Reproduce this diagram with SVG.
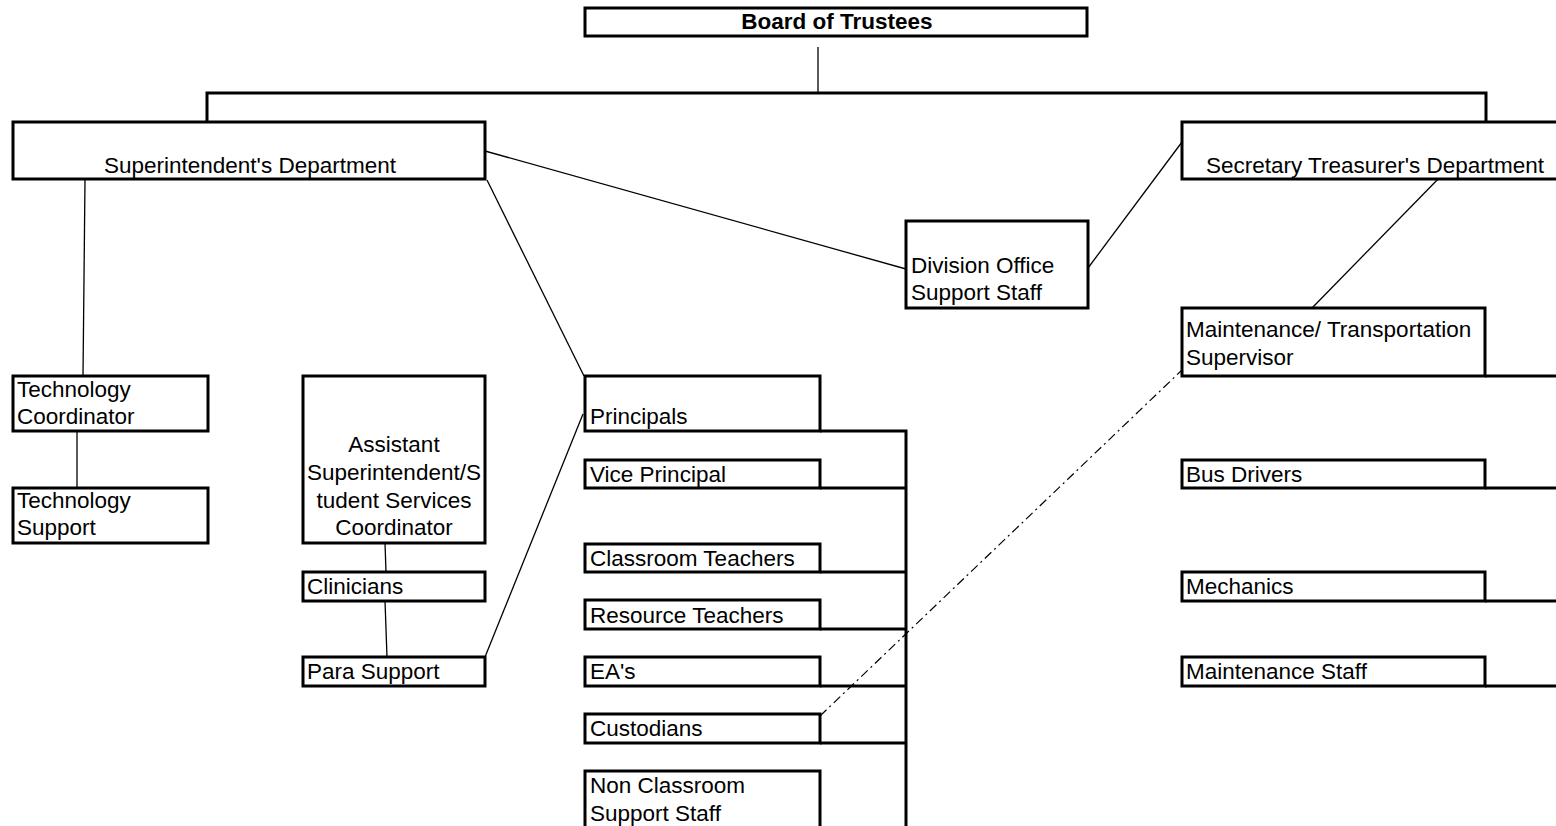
<svg xmlns="http://www.w3.org/2000/svg" width="1556" height="826" viewBox="0 0 1556 826">
<style>
  .box { fill: #ffffff; stroke: #000000; stroke-width: 3; }
  .t { font-family: "Liberation Sans", Arial, sans-serif; font-size: 22.5px; fill: #000000; }
  .b { font-weight: bold; }
  .c { text-anchor: middle; }
  .thin { fill: none; stroke: #000000; stroke-width: 1.3; }
  .thick { fill: none; stroke: #000000; stroke-width: 3; }
  .dd { fill: none; stroke: #000000; stroke-width: 1.2; stroke-dasharray: 9 4 2 4; }
</style>
<rect x="0" y="0" width="1556" height="826" fill="#ffffff"/>
<g id="connectors">
  <line class="thin" x1="818" y1="47" x2="818" y2="92"/>
  <polyline class="thick" points="207,123 207,93 1486,93 1486,123"/>
  <line class="thin" x1="485" y1="151" x2="906" y2="269"/>
  <line class="thin" x1="487" y1="180" x2="584" y2="376"/>
  <line class="thin" x1="1182" y1="142" x2="1088" y2="268"/>
  <line class="thin" x1="1443" y1="174" x2="1312" y2="308"/>
  <line class="thin" x1="85" y1="180" x2="83" y2="376"/>
  <line class="thin" x1="77" y1="431" x2="77" y2="488"/>
  <line class="thin" x1="385" y1="543" x2="386" y2="572"/>
  <line class="thin" x1="385" y1="601" x2="387" y2="657"/>
  <line class="thin" x1="485" y1="657" x2="583" y2="414"/>
  <polyline class="thick" points="820,431 906,431 906,826"/>
  <line class="thick" x1="820" y1="488" x2="906" y2="488"/>
  <line class="thick" x1="820" y1="572" x2="906" y2="572"/>
  <line class="thick" x1="820" y1="629" x2="906" y2="629"/>
  <line class="thick" x1="820" y1="686" x2="906" y2="686"/>
  <line class="thick" x1="820" y1="743" x2="906" y2="743"/>
  <line class="thick" x1="1485" y1="376" x2="1556" y2="376"/>
  <line class="thick" x1="1485" y1="488" x2="1556" y2="488"/>
  <line class="thick" x1="1485" y1="601" x2="1556" y2="601"/>
  <line class="thick" x1="1485" y1="686" x2="1556" y2="686"/>
  <line class="dd" x1="820" y1="716" x2="1182" y2="370"/>
</g>
<g id="board"><rect class="box" x="585" y="8" width="502" height="28"/><text class="t b c" x="837" y="29">Board of Trustees</text></g>
<g id="superintendent"><rect class="box" x="13" y="122" width="472" height="57"/><text class="t c" x="250" y="173">Superintendent's Department</text></g>
<g id="secretary"><rect class="box" x="1182" y="122" width="400" height="57"/><text class="t c" x="1375" y="173">Secretary Treasurer's Department</text></g>
<g id="division-office"><rect class="box" x="906" y="221" width="182" height="87"/><text class="t" x="911" y="273">Division Office</text><text class="t" x="911" y="300">Support Staff</text></g>
<g id="maintenance-supervisor"><rect class="box" x="1182" y="308" width="303" height="68"/><text class="t" x="1186" y="337">Maintenance/ Transportation</text><text class="t" x="1186" y="365">Supervisor</text></g>
<g id="tech-coordinator"><rect class="box" x="13" y="376" width="195" height="55"/><text class="t" x="17" y="397">Technology</text><text class="t" x="17" y="424">Coordinator</text></g>
<g id="tech-support"><rect class="box" x="13" y="488" width="195" height="55"/><text class="t" x="17" y="508">Technology</text><text class="t" x="17" y="535">Support</text></g>
<g id="assistant"><rect class="box" x="303" y="376" width="182" height="167"/><text class="t c" x="394" y="452">Assistant</text><text class="t c" x="394" y="480">Superintendent/S</text><text class="t c" x="394" y="508">tudent Services</text><text class="t c" x="394" y="535">Coordinator</text></g>
<g id="clinicians"><rect class="box" x="303" y="572" width="182" height="29"/><text class="t" x="307" y="594">Clinicians</text></g>
<g id="para-support"><rect class="box" x="303" y="657" width="182" height="29"/><text class="t" x="307" y="679">Para Support</text></g>
<g id="principals"><rect class="box" x="585" y="376" width="235" height="55"/><text class="t" x="590" y="424">Principals</text></g>
<g id="vice-principal"><rect class="box" x="585" y="460" width="235" height="28"/><text class="t" x="590" y="482">Vice Principal</text></g>
<g id="classroom-teachers"><rect class="box" x="585" y="544" width="235" height="28"/><text class="t" x="590" y="566">Classroom Teachers</text></g>
<g id="resource-teachers"><rect class="box" x="585" y="600" width="235" height="29"/><text class="t" x="590" y="623">Resource Teachers</text></g>
<g id="eas"><rect class="box" x="585" y="657" width="235" height="29"/><text class="t" x="590" y="679">EA's</text></g>
<g id="custodians"><rect class="box" x="585" y="714" width="235" height="29"/><text class="t" x="590" y="736">Custodians</text></g>
<g id="non-classroom"><rect class="box" x="585" y="771" width="235" height="70"/><text class="t" x="590" y="793">Non Classroom</text><text class="t" x="590" y="821">Support Staff</text></g>
<g id="bus-drivers"><rect class="box" x="1182" y="460" width="303" height="28"/><text class="t" x="1186" y="482">Bus Drivers</text></g>
<g id="mechanics"><rect class="box" x="1182" y="572" width="303" height="29"/><text class="t" x="1186" y="594">Mechanics</text></g>
<g id="maintenance-staff"><rect class="box" x="1182" y="657" width="303" height="29"/><text class="t" x="1186" y="679">Maintenance Staff</text></g>
</svg>
